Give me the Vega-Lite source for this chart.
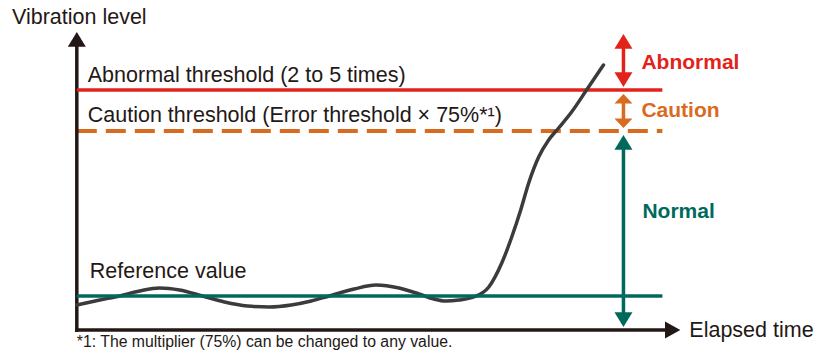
{
  "$schema": "https://vega.github.io/schema/vega-lite/v6.json",
  "width": 814,
  "height": 353,
  "autosize": {"type": "fit", "contains": "padding"},
  "padding": 0,
  "background": "white",
  "config": {"view": {"stroke": null}},
  "datasets": {
    "curve": [
      {"t": 77, "v": 48}, {"t": 100, "v": 53}, {"t": 120, "v": 57}, {"t": 140, "v": 62},
      {"t": 160, "v": 65}, {"t": 180, "v": 63}, {"t": 203, "v": 57}, {"t": 225, "v": 51},
      {"t": 248, "v": 47}, {"t": 270, "v": 46}, {"t": 292, "v": 48}, {"t": 312, "v": 52},
      {"t": 330, "v": 57}, {"t": 355, "v": 64}, {"t": 377, "v": 68}, {"t": 400, "v": 65},
      {"t": 420, "v": 59}, {"t": 435, "v": 54}, {"t": 447, "v": 52}, {"t": 460, "v": 53},
      {"t": 475, "v": 56}, {"t": 490, "v": 66}, {"t": 503, "v": 90}, {"t": 513, "v": 116},
      {"t": 522, "v": 143}, {"t": 530, "v": 170}, {"t": 540, "v": 196}, {"t": 550, "v": 213},
      {"t": 560, "v": 225}, {"t": 573, "v": 241}, {"t": 588, "v": 263}, {"t": 605, "v": 288}
    ],
    "rules": [
      {"t": 77, "v": 21, "t2": 77, "v2": 309, "kind": "axis", "style": "solid"},
      {"t": 75.3, "v": 23, "t2": 670, "v2": 23, "kind": "axis", "style": "solid"},
      {"t": 77, "v": 263, "t2": 664, "v2": 263, "kind": "abnormal", "style": "solid"},
      {"t": 77, "v": 222, "t2": 664, "v2": 222, "kind": "caution", "style": "dashed"},
      {"t": 77, "v": 57, "t2": 664, "v2": 57, "kind": "normal", "style": "solid"},
      {"t": 625, "v": 308, "t2": 625, "v2": 273, "kind": "abnormal", "style": "solid"},
      {"t": 625, "v": 252, "t2": 625, "v2": 232, "kind": "caution", "style": "solid"},
      {"t": 625, "v": 205, "t2": 625, "v2": 38, "kind": "normal", "style": "solid"}
    ],
    "heads": [
      {"t": 77, "v": 321, "dir": "up", "kind": "axis"},
      {"t": 682, "v": 23, "dir": "right", "kind": "axis"},
      {"t": 625, "v": 319, "dir": "up", "kind": "abnormal"},
      {"t": 625, "v": 266, "dir": "down", "kind": "abnormal"},
      {"t": 625, "v": 259, "dir": "upS", "kind": "caution"},
      {"t": 625, "v": 225, "dir": "downS", "kind": "caution"},
      {"t": 625, "v": 218, "dir": "up", "kind": "normal"},
      {"t": 625, "v": 26, "dir": "down", "kind": "normal"}
    ],
    "labels": [
      {"t": 12, "v": 329, "label": "Vibration level"},
      {"t": 88, "v": 271, "label": "Abnormal threshold (2 to 5 times)"},
      {"t": 88, "v": 231, "label": "Caution threshold (Error threshold × 75%*¹)"},
      {"t": 90, "v": 75, "label": "Reference value"},
      {"t": 691, "v": 16, "label": "Elapsed time"}
    ],
    "notes": [
      {"t": 77, "v": 6, "label": "*1: The multiplier (75%) can be changed to any value."}
    ],
    "zones": [
      {"t": 643, "v": 284, "label": "Abnormal", "kind": "abnormal"},
      {"t": 643, "v": 236, "label": "Caution", "kind": "caution"},
      {"t": 644, "v": 135, "label": "Normal", "kind": "normal"}
    ]
  },
  "encoding": {
    "x": {"field": "t", "type": "quantitative", "scale": {"domain": [0, 814], "nice": false, "zero": false}, "axis": null},
    "y": {"field": "v", "type": "quantitative", "scale": {"domain": [0, 353], "nice": false, "zero": false}, "axis": null}
  },
  "layer": [
    {
      "data": {"name": "rules"},
      "transform": [{"filter": "datum.style === 'dashed'"}],
      "mark": {"type": "rule", "strokeWidth": 4, "strokeDash": [20, 9]},
      "encoding": {
        "x2": {"field": "t2"},
        "y2": {"field": "v2"},
        "color": {"field": "kind", "type": "nominal", "legend": null,
          "scale": {"domain": ["axis", "abnormal", "caution", "normal"], "range": ["#231815", "#e2231a", "#d86b1f", "#00695c"]}}
      }
    },
    {
      "data": {"name": "rules"},
      "transform": [{"filter": "datum.style === 'solid' && datum.kind !== 'normal'"}],
      "mark": {"type": "rule", "strokeWidth": 3.5},
      "encoding": {
        "x2": {"field": "t2"},
        "y2": {"field": "v2"},
        "color": {"field": "kind", "type": "nominal", "legend": null}
      }
    },
    {
      "data": {"name": "curve"},
      "mark": {"type": "line", "interpolate": "monotone", "strokeWidth": 3.5, "color": "#3b3b3b", "strokeCap": "round"},
      "encoding": {}
    },
    {
      "data": {"name": "rules"},
      "transform": [{"filter": "datum.style === 'solid' && datum.kind === 'normal'"}],
      "mark": {"type": "rule", "strokeWidth": 3.5},
      "encoding": {
        "x2": {"field": "t2"},
        "y2": {"field": "v2"},
        "color": {"field": "kind", "type": "nominal", "legend": null}
      }
    },
    {
      "data": {"name": "heads"},
      "mark": {"type": "point", "filled": true, "size": 324, "strokeWidth": 0, "opacity": 1},
      "encoding": {
        "shape": {"field": "dir", "type": "nominal", "legend": null,
          "scale": {"domain": ["up", "down", "upS", "downS", "right"],
            "range": ["M0,0L-1,1.65L1,1.65Z", "M0,0L-1,-1.65L1,-1.65Z", "M0,0L-1,1.05L1,1.05Z", "M0,0L-1,-1.05L1,-1.05Z", "M0,0L-1.7,-0.95L-1.7,0.95Z"]}},
        "color": {"field": "kind", "type": "nominal", "legend": null}
      }
    },
    {
      "data": {"name": "labels"},
      "mark": {"type": "text", "font": "Liberation Sans", "fontSize": 21.5, "align": "left", "baseline": "alphabetic", "color": "#231815"},
      "encoding": {"text": {"field": "label"}}
    },
    {
      "data": {"name": "notes"},
      "mark": {"type": "text", "font": "Liberation Sans", "fontSize": 15.8, "align": "left", "baseline": "alphabetic", "color": "#231815"},
      "encoding": {"text": {"field": "label"}}
    },
    {
      "data": {"name": "zones"},
      "mark": {"type": "text", "font": "Liberation Sans", "fontSize": 21, "fontWeight": "bold", "align": "left", "baseline": "alphabetic"},
      "encoding": {
        "text": {"field": "label"},
        "color": {"field": "kind", "type": "nominal", "legend": null}
      }
    }
  ]
}
